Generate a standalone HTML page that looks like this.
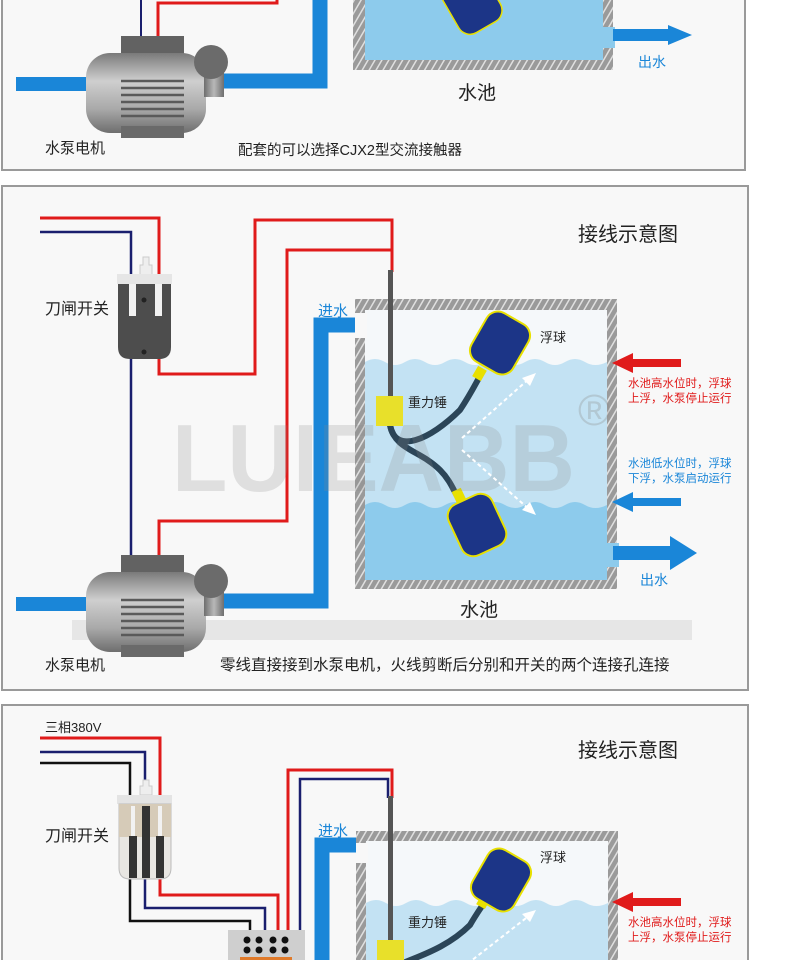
<!DOCTYPE html>
<html><head><meta charset="utf-8"><style>
html,body{margin:0;padding:0;background:#fff}
svg{display:block}
text{font-family:"Liberation Sans","Noto Sans CJK SC",sans-serif}
</style></head><body>
<svg width="790" height="960" viewBox="0 0 790 960" xmlns="http://www.w3.org/2000/svg">
<defs>
<pattern id="hatch" width="6" height="6" patternUnits="userSpaceOnUse" patternTransform="rotate(30)">
<rect width="6" height="6" fill="#9a9a9a"/><rect width="1.5" height="6" fill="#e0e0e0"/>
</pattern>
<linearGradient id="pg" x1="0" y1="0" x2="0" y2="1">
<stop offset="0" stop-color="#7a7a7a"/><stop offset="0.35" stop-color="#cfcfcf"/><stop offset="0.7" stop-color="#a9a9a9"/><stop offset="1" stop-color="#6e6e6e"/>
</linearGradient>
<linearGradient id="pg2" x1="0" y1="0" x2="1" y2="0">
<stop offset="0" stop-color="#6e6e6e"/><stop offset="0.5" stop-color="#b8b8b8"/><stop offset="1" stop-color="#6e6e6e"/>
</linearGradient>
<g id="pump">
<rect x="121" y="555" width="63" height="26" fill="#626262"/>
<rect x="86" y="572" width="120" height="80" rx="24" fill="url(#pg)"/>
<rect x="121" y="572" width="63" height="80" fill="url(#pg)"/>
<g stroke="#5a5a5a" stroke-width="2.5">
<line x1="121" y1="600" x2="184" y2="600"/><line x1="121" y1="607" x2="184" y2="607"/><line x1="121" y1="614" x2="184" y2="614"/><line x1="121" y1="621" x2="184" y2="621"/><line x1="121" y1="628" x2="184" y2="628"/><line x1="121" y1="635" x2="184" y2="635"/>
</g>
<rect x="204" y="586" width="20" height="30" fill="url(#pg2)"/>
<circle cx="211" cy="581" r="17" fill="#6b6b6b"/>
<rect x="121" y="645" width="63" height="12" fill="#6a6a6a"/>
</g>
<g id="float">
<rect x="-24" y="-28" width="48" height="56" rx="13" fill="#1c3587" stroke="#e8e000" stroke-width="2"/>
</g>
</defs>

<!-- Panel 1 -->
<rect x="2" y="-5" width="743" height="175" fill="#f8f8f8" stroke="#9a9a9a" stroke-width="2"/>
<line x1="141" y1="0" x2="141" y2="38" stroke="#1a1f6e" stroke-width="2"/>
<polyline points="158,38 158,3 277,3 277,0" fill="none" stroke="#e01b1b" stroke-width="3"/>
<rect x="16" y="77" width="80" height="14" fill="#1a86d8"/>
<polyline points="210,81 320,81 320,0" fill="none" stroke="#1a86d8" stroke-width="15"/>
<use href="#pump" transform="translate(0,-519)"/>
<rect x="353" y="0" width="260" height="70" fill="url(#hatch)"/>
<rect x="365" y="0" width="238" height="60" fill="#8dcbec"/>
<rect x="603" y="27" width="12" height="21" fill="#8dcbec"/>
<g transform="translate(475,8) rotate(-30)"><rect x="-24" y="-40" width="48" height="62" rx="13" fill="#1c3587" stroke="#e8e000" stroke-width="1.5"/></g>
<polygon points="613,29 668,29 668,25 692,35 668,45 668,41 613,41" fill="#1a86d8"/>
<text x="638" y="67" font-size="14" fill="#1a86d8">出水</text>
<text x="458" y="99" font-size="19" fill="#222">水池</text>
<text x="45" y="153" font-size="15" fill="#222">水泵电机</text>
<text x="238" y="155" font-size="14.5" fill="#222">配套的可以选择CJX2型交流接触器</text>

<!-- Panel 2 -->
<rect x="2" y="186" width="746" height="504" fill="#f8f8f8" stroke="#9a9a9a" stroke-width="2"/>
<rect x="72" y="620" width="620" height="20" fill="#e6e6e6"/>
<text x="578" y="241" font-size="20" fill="#222">接线示意图</text>
<polyline points="40,218 159,218 159,278" fill="none" stroke="#e01b1b" stroke-width="3"/>
<polyline points="40,232 131,232 131,278" fill="none" stroke="#1a1f6e" stroke-width="2.5"/>
<line x1="131" y1="355" x2="131" y2="557" stroke="#1a1f6e" stroke-width="2.5"/>
<polyline points="159,355 159,374 255,374 255,220 392,220 392,272" fill="none" stroke="#e01b1b" stroke-width="3"/>
<polyline points="159,557 159,521 287,521 287,250 392,250" fill="none" stroke="#e01b1b" stroke-width="3"/>
<path d="M140,275 V265 H143 V257 H149 V265 H152 V275 Z" fill="#eeeeee" stroke="#ccc"/>
<rect x="117" y="274" width="55" height="10" fill="#e6e6e6"/>
<path d="M118,284 H171 V347 Q171,359 159,359 H130 Q118,359 118,347 Z" fill="#4d4d4d"/>
<rect x="129" y="284" width="7" height="32" fill="#f2f2f2"/>
<rect x="155" y="284" width="7" height="32" fill="#f2f2f2"/>
<circle cx="144" cy="300" r="2.5" fill="#222"/><circle cx="144" cy="352" r="2.5" fill="#222"/>
<text x="45" y="314" font-size="16" fill="#222">刀闸开关</text>
<rect x="16" y="597" width="80" height="14" fill="#1a86d8"/>
<polyline points="210,601 321,601 321,325 370,325" fill="none" stroke="#1a86d8" stroke-width="15"/>
<polygon points="365,314 388,325 365,336" fill="#1a86d8"/>
<use href="#pump"/>
<text x="318" y="316" font-size="15" fill="#1a86d8">进水</text>
<rect x="355" y="299" width="262" height="290" fill="url(#hatch)"/>
<rect x="365" y="310" width="242" height="270" fill="#f5f8fa"/>
<rect x="355" y="313" width="12" height="25" fill="#f8f8f8"/>
<path d="M365 362 q10 -6 20 0 t20 0 t20 0 t20 0 t20 0 t20 0 t20 0 t20 0 t20 0 t20 0 t20 0 t22 0 L607 580 L365 580 Z" fill="#c3e2f3"/>
<path d="M365 505 q10 -6 20 0 t20 0 t20 0 t20 0 t20 0 t20 0 t20 0 t20 0 t20 0 t20 0 t20 0 t22 0 L607 580 L365 580 Z" fill="#8dcbec"/>
<rect x="603" y="543" width="16" height="24" fill="#8dcbec"/>
<rect x="388" y="270" width="5" height="128" fill="#555"/>
<path d="M390,425 C395,455 430,440 460,410 C470,395 475,385 480,376" fill="none" stroke="#2b4558" stroke-width="6"/>
<path d="M390,425 C395,450 420,450 440,470 C452,482 455,495 460,500" fill="none" stroke="#2b4558" stroke-width="6"/>
<rect x="376" y="396" width="27" height="30" fill="#e8e02a"/>
<g transform="translate(478,376) rotate(30)"><rect x="-5" y="-9" width="10" height="12" fill="#e8e000"/></g>
<g transform="translate(500,343) rotate(30)"><use href="#float"/></g>
<g transform="translate(460,498) rotate(-25)"><rect x="-5" y="-9" width="10" height="12" fill="#e8e000"/></g>
<g transform="translate(477,525) rotate(-25)"><use href="#float"/></g>
<text x="172" y="491" font-size="96" font-weight="bold" fill="#8a8a8a" fill-opacity="0.22" textLength="403" lengthAdjust="spacingAndGlyphs">LUIEABB</text>
<text x="578" y="425" font-size="44" fill="#8a8a8a" fill-opacity="0.3">®</text>
<g stroke="#fff" stroke-width="2" stroke-dasharray="4,3" fill="none">
<line x1="462" y1="438" x2="530" y2="378"/><line x1="462" y1="450" x2="530" y2="510"/>
</g>
<polygon points="536,373 522,378 530,386" fill="#fff"/>
<polygon points="536,515 522,510 530,502" fill="#fff"/>
<text x="540" y="342" font-size="13" fill="#222">浮球</text>
<text x="408" y="407" font-size="13" fill="#222">重力锤</text>
<polygon points="612,363 633,353 633,359 681,359 681,367 633,367 633,373" fill="#e01b1b"/>
<text x="628" y="387" font-size="11.5" fill="#e01b1b">水池高水位时，浮球</text>
<text x="628" y="402" font-size="11.5" fill="#e01b1b">上浮，水泵停止运行</text>
<text x="628" y="467" font-size="11.5" fill="#1a86d8">水池低水位时，浮球</text>
<text x="628" y="482" font-size="11.5" fill="#1a86d8">下浮，水泵启动运行</text>
<polygon points="612,502 633,492 633,498 681,498 681,506 633,506 633,512" fill="#1a86d8"/>
<polygon points="613,546 670,546 670,536 697,553 670,570 670,560 613,560" fill="#1a86d8"/>
<text x="640" y="585" font-size="14" fill="#1a86d8">出水</text>
<text x="460" y="616" font-size="19" fill="#222">水池</text>
<text x="45" y="670" font-size="15" fill="#222">水泵电机</text>
<text x="220" y="670" font-size="15.5" fill="#222">零线直接接到水泵电机，火线剪断后分别和开关的两个连接孔连接</text>

<!-- Panel 3 -->
<rect x="2" y="705" width="746" height="270" fill="#f8f8f8" stroke="#9a9a9a" stroke-width="2"/>
<text x="578" y="757" font-size="20" fill="#222">接线示意图</text>
<text x="45" y="732" font-size="13" fill="#222">三相380V</text>
<polyline points="40,738 160,738 160,795" fill="none" stroke="#e01b1b" stroke-width="3"/>
<polyline points="40,752 145,752 145,782" fill="none" stroke="#1a1f6e" stroke-width="2.5"/>
<polyline points="40,763 130,763 130,795" fill="none" stroke="#111" stroke-width="2.5"/>
<polyline points="130,878 130,921 250,921 250,931" fill="none" stroke="#111" stroke-width="2.5"/>
<polyline points="145,878 145,908 265,908 265,931" fill="none" stroke="#1a1f6e" stroke-width="2.5"/>
<polyline points="160,878 160,895 278,895 278,931" fill="none" stroke="#e01b1b" stroke-width="3"/>
<polyline points="288,931 288,770 392,770 392,798" fill="none" stroke="#e01b1b" stroke-width="3"/>
<polyline points="300,931 300,779 388,779 388,798" fill="none" stroke="#1a1f6e" stroke-width="2.5"/>
<path d="M140,795 V786 H143 V780 H149 V786 H152 V795 Z" fill="#eee" stroke="#ccc"/>
<rect x="117" y="795" width="55" height="9" fill="#e4e4e4"/>
<path d="M119,804 H171 V868 Q171,879 160,879 H130 Q119,879 119,868 Z" fill="#e8e6e2" stroke="#bbb"/>
<rect x="119" y="804" width="52" height="33" fill="#d6cbb8"/>
<rect x="129" y="836" width="8" height="42" fill="#333"/>
<rect x="142" y="806" width="8" height="72" fill="#333"/>
<rect x="156" y="836" width="8" height="42" fill="#333"/>
<rect x="131" y="806" width="4" height="30" fill="#f2f2f2"/><rect x="158" y="806" width="4" height="30" fill="#f2f2f2"/>
<text x="45" y="841" font-size="16" fill="#222">刀闸开关</text>
<rect x="228" y="930" width="77" height="32" fill="#cfcfcf"/>
<g fill="#111"><circle cx="247" cy="940" r="3.5"/><circle cx="259" cy="940" r="3.5"/><circle cx="273" cy="940" r="3.5"/><circle cx="285" cy="940" r="3.5"/><circle cx="247" cy="950" r="3.5"/><circle cx="259" cy="950" r="3.5"/><circle cx="273" cy="950" r="3.5"/><circle cx="285" cy="950" r="3.5"/></g>
<rect x="240" y="957" width="52" height="5" fill="#e07a2a"/>
<polyline points="322,962 322,845 370,845" fill="none" stroke="#1a86d8" stroke-width="15"/>
<polygon points="365,834 388,845 365,856" fill="#1a86d8"/>
<text x="318" y="836" font-size="15" fill="#1a86d8">进水</text>
<rect x="356" y="831" width="262" height="140" fill="url(#hatch)"/>
<rect x="366" y="841" width="242" height="130" fill="#f5f8fa"/>
<rect x="356" y="843" width="12" height="20" fill="#f8f8f8"/>
<path d="M366 903 q10 -6 20 0 t20 0 t20 0 t20 0 t20 0 t20 0 t20 0 t20 0 t20 0 t20 0 t20 0 t22 0 L608 970 L366 970 Z" fill="#c3e2f3"/>
<rect x="388" y="796" width="5" height="146" fill="#555"/>
<path d="M392,970 C400,960 440,955 470,925 C474,918 478,912 482,906" fill="none" stroke="#2b4558" stroke-width="6"/>
<rect x="377" y="940" width="27" height="33" fill="#e8e02a"/>
<g transform="translate(482,904) rotate(30)"><rect x="-5" y="-9" width="10" height="12" fill="#e8e000"/></g>
<g transform="translate(501,880) rotate(30)"><use href="#float"/></g>
<line x1="462" y1="968" x2="530" y2="915" stroke="#fff" stroke-width="2" stroke-dasharray="4,3"/>
<polygon points="536,910 522,914 530,922" fill="#fff"/>
<text x="540" y="862" font-size="13" fill="#222">浮球</text>
<text x="408" y="927" font-size="13" fill="#222">重力锤</text>
<polygon points="612,902 633,892 633,898 681,898 681,906 633,906 633,912" fill="#e01b1b"/>
<text x="628" y="926" font-size="11.5" fill="#e01b1b">水池高水位时，浮球</text>
<text x="628" y="941" font-size="11.5" fill="#e01b1b">上浮，水泵停止运行</text>
</svg>
</body></html>
